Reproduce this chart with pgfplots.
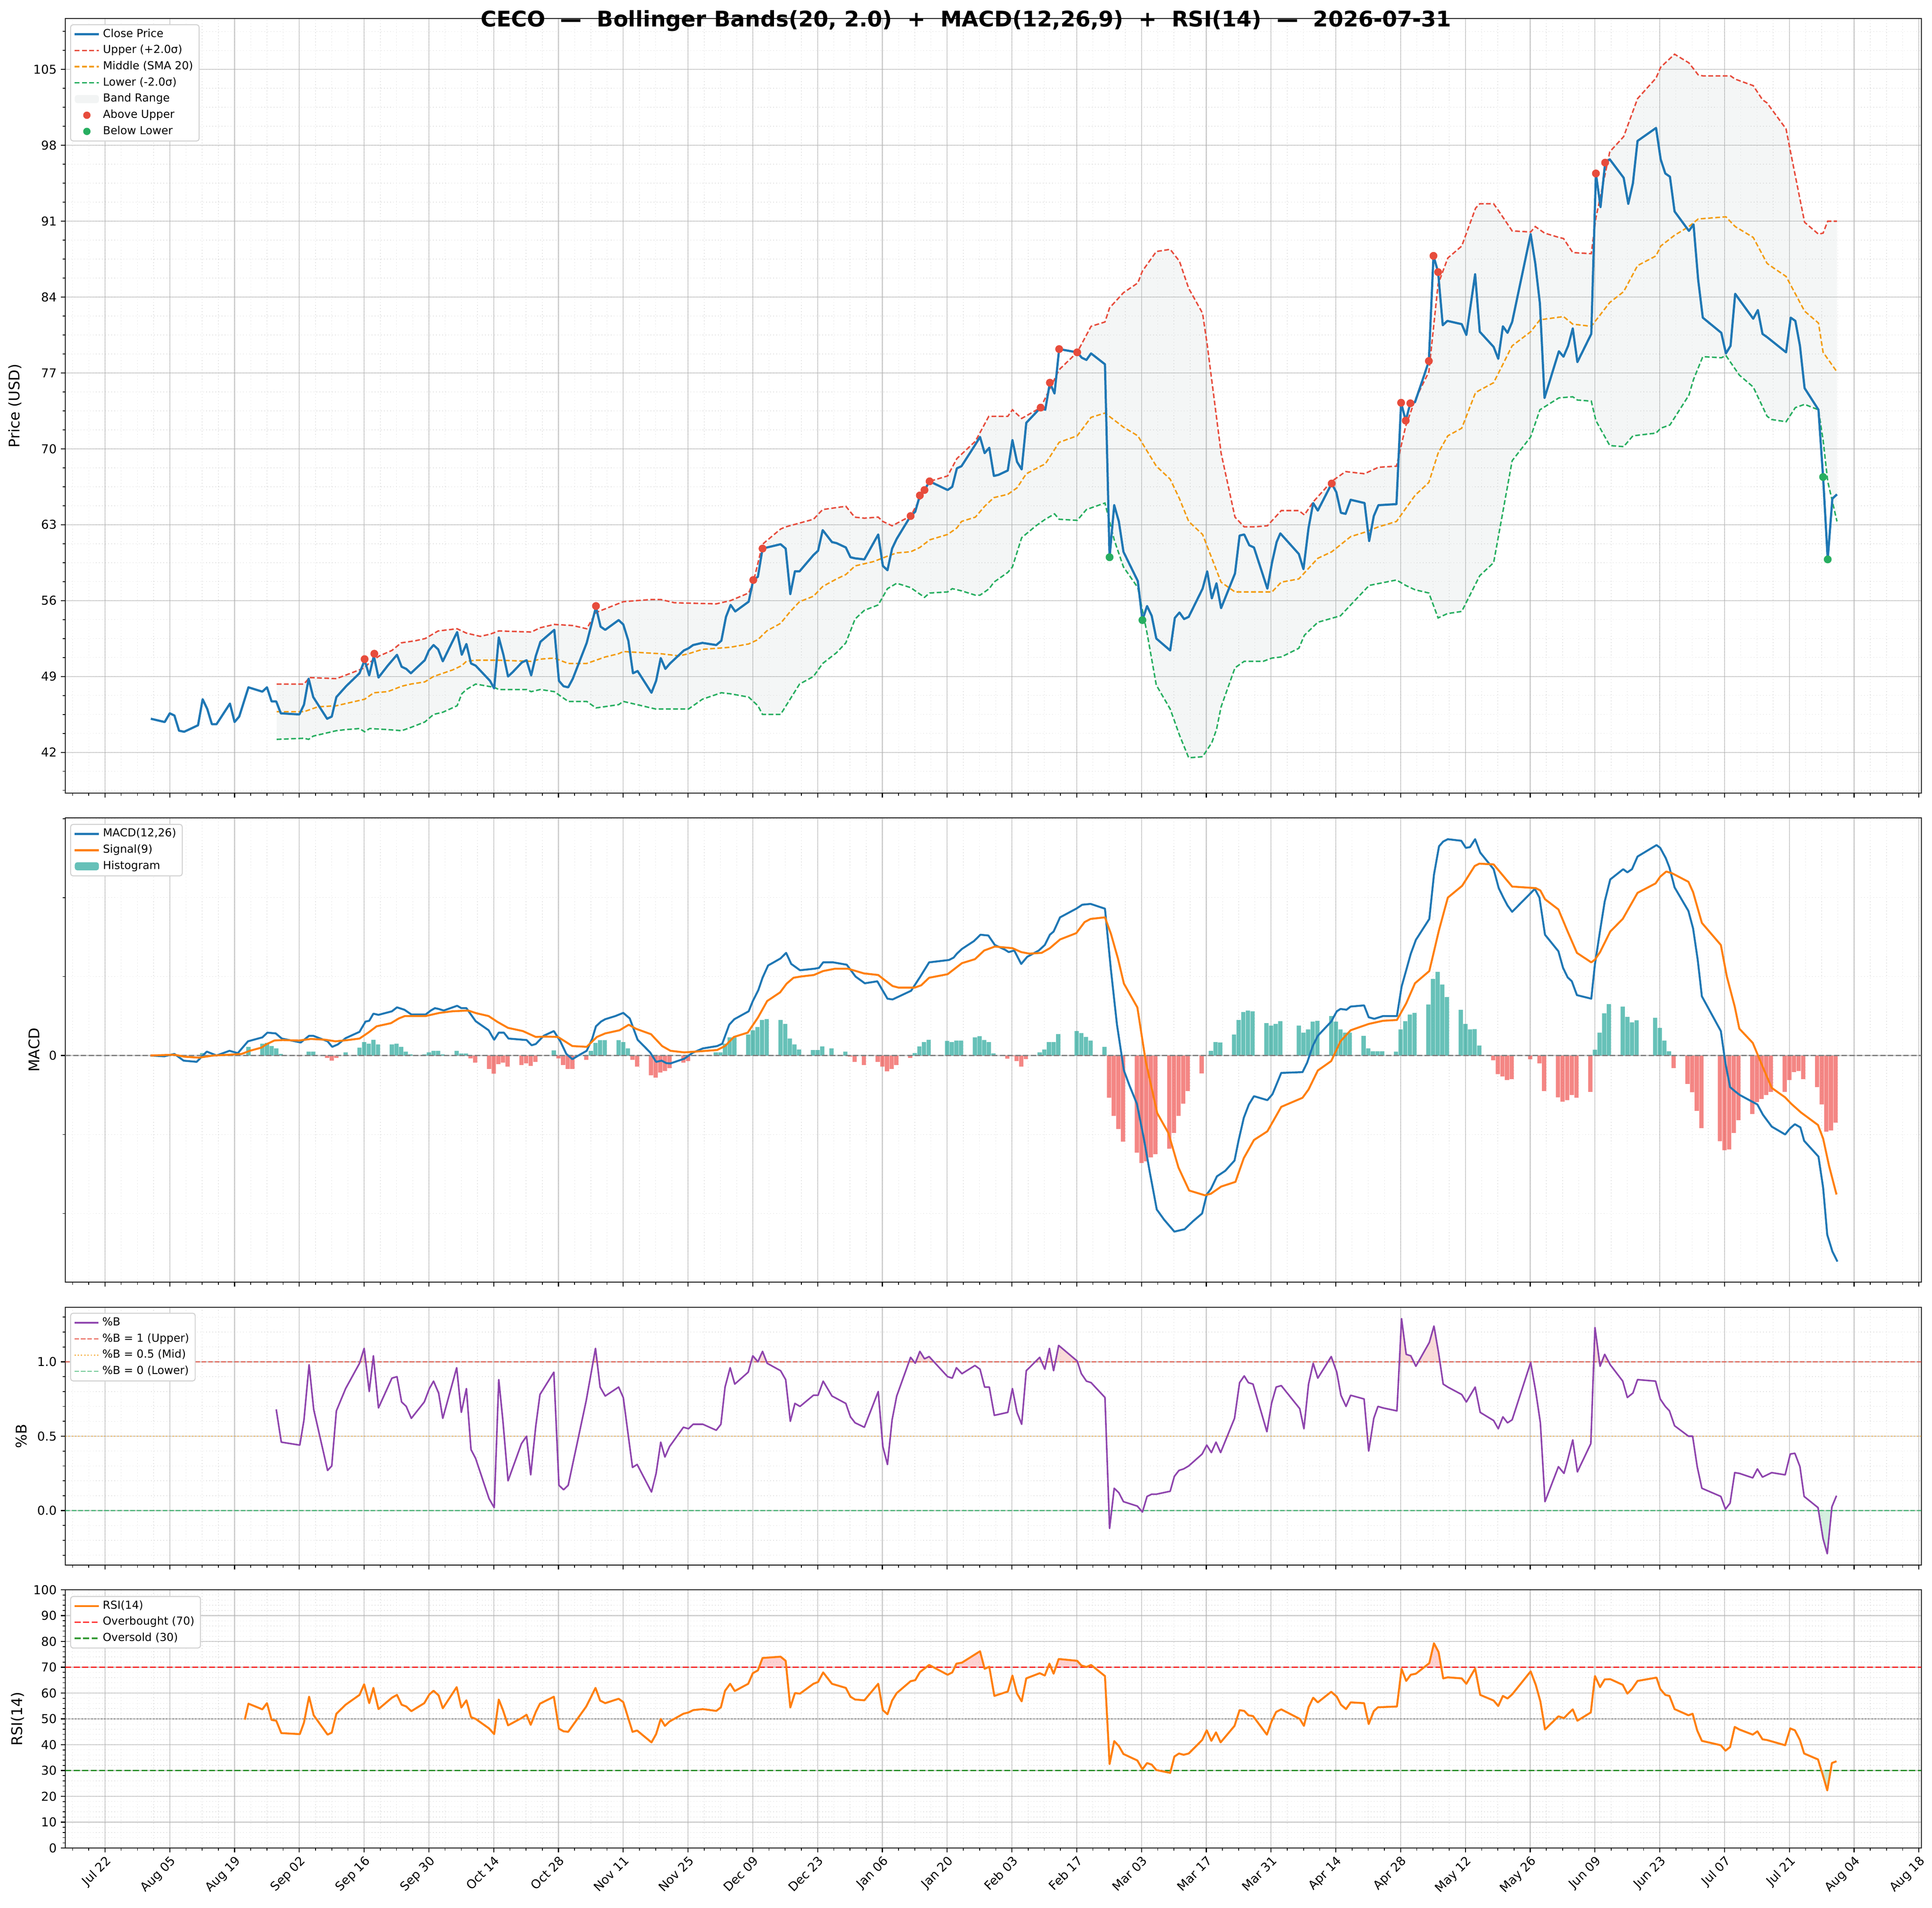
\documentclass[border=0pt]{standalone}
\usepackage{fontspec}
\setmainfont{DejaVu Sans}
\usepackage{pgfplots}
\usepackage{pgfplotstable}
\pgfplotsset{compat=1.18}

\definecolor{cblue}{HTML}{1F77B4}
\definecolor{corange}{HTML}{FF7F0E}
\definecolor{cupper}{HTML}{E74C3C}
\definecolor{cmid}{HTML}{F39C12}
\definecolor{clow}{HTML}{27AE60}
\definecolor{cband}{HTML}{95A5A6}
\definecolor{cteal}{HTML}{26A69A}
\definecolor{cred}{HTML}{EF5350}
\definecolor{cpurple}{HTML}{8E44AD}
\definecolor{cgrid}{HTML}{B0B0B0}
\definecolor{mplgreen}{HTML}{008000}

\pgfplotstableread{
x y
9.9 45.1
12.9 44.8
14.0 45.6
15.0 45.4
16.0 44.0
17.1 43.9
20.1 44.5
21.1 46.9
22.1 46.0
23.1 44.6
24.1 44.6
27.0 46.5
28.0 44.8
29.0 45.3
31.0 48.0
34.0 47.6
35.0 48.0
36.0 46.7
37.0 46.7
38.0 45.6
42.0 45.5
43.0 46.4
44.0 48.8
45.0 47.1
48.0 45.1
49.0 45.3
50.0 47.1
52.1 48.1
55.0 49.3
56.1 50.5
57.1 49.1
58.1 50.9
59.1 48.9
61.1 50.0
63.1 51.0
64.1 49.9
65.1 49.7
66.1 49.3
68.1 50.1
69.1 50.5
70.0 51.4
71.0 51.9
72.0 51.5
73.0 50.4
76.1 53.1
77.1 51.0
78.1 52.0
79.1 50.2
80.1 50.0
83.2 48.6
84.1 47.9
85.1 52.6
86.1 51.0
87.1 49.0
88.1 49.4
90.1 50.3
91.1 50.5
92.1 49.1
93.1 50.9
94.1 52.2
97.1 53.3
98.1 48.6
99.1 48.1
100.1 48.0
101.1 48.8
104.1 52.1
106.1 55.4
107.1 53.6
108.1 53.3
111.0 54.2
112.0 53.8
113.1 52.3
114.1 49.3
115.1 49.5
118.1 47.5
119.1 48.6
120.1 50.7
121.1 49.7
122.1 50.2
123.1 50.6
125.1 51.4
126.1 51.6
127.1 51.9
129.1 52.1
132.1 51.9
133.2 52.3
134.2 54.5
135.2 55.6
136.2 55.0
139.1 55.9
140.1 57.9
141.1 58.2
142.1 60.8
146.0 61.2
147.1 60.8
148.1 56.6
149.1 58.7
150.1 58.7
153.1 60.2
154.1 60.6
155.1 62.5
157.1 61.4
158.1 61.3
160.1 60.9
161.1 60.0
162.1 59.9
164.1 59.8
167.1 62.1
168.1 59.2
169.1 58.8
170.1 60.8
171.1 61.7
174.1 63.8
175.1 64.2
176.1 65.7
177.1 66.2
178.2 67.0
182.1 66.2
183.1 66.5
184.1 68.2
185.1 68.4
188.1 70.4
189.1 71.1
190.1 69.6
191.1 70.1
192.1 67.5
193.1 67.6
195.1 68.0
196.1 70.8
197.1 68.8
198.1 68.1
199.1 72.4
202.2 73.8
203.2 73.6
204.2 76.1
205.2 75.1
206.2 79.2
210.1 78.9
211.1 78.4
212.1 78.2
213.1 78.8
216.1 77.8
217.1 60.0
218.1 64.8
219.1 63.3
220.1 60.5
223.2 57.8
224.2 54.2
225.2 55.5
226.2 54.6
227.2 52.5
230.2 51.4
231.2 54.4
232.2 54.9
233.2 54.3
234.2 54.5
237.2 57.1
238.2 58.7
239.2 56.2
240.2 57.6
241.2 55.3
244.2 58.5
245.2 62.0
246.2 62.1
247.3 61.1
248.3 60.9
251.2 57.1
252.2 59.5
253.2 61.4
254.0 62.2
258.0 60.3
259.0 58.9
260.1 62.7
261.1 65.0
262.1 64.3
265.1 66.8
266.1 66.0
267.1 64.1
268.1 64.0
269.2 65.3
272.2 65.0
273.2 61.5
274.2 63.8
275.2 64.8
279.1 64.9
280.1 74.25
281.1 72.6
282.1 74.2
283.1 74.3
285.1 76.8
286.1 78.1
287.1 87.8
288.1 86.3
289.1 81.4
290.1 81.8
293.2 81.5
294.2 80.5
296.1 86.1
297.1 80.8
300.1 79.4
301.1 78.3
302.1 81.3
303.1 80.7
304.1 81.7
308.1 89.8
309.1 87.1
310.1 83.4
311.1 74.7
314.2 79.0
315.2 78.5
316.2 79.5
317.2 81.1
318.2 78.0
321.2 80.6
322.2 95.4
323.2 92.3
324.2 96.4
325.2 96.7
328.2 95.0
329.2 92.6
330.2 94.5
331.2 98.4
335.2 99.6
336.2 96.7
337.2 95.4
338.2 95.1
339.2 91.9
342.3 90.1
343.3 90.7
344.3 85.6
345.3 82.1
349.3 80.7
350.3 78.8
351.3 79.5
352.3 84.3
353.3 83.7
356.2 82.0
357.2 82.8
358.2 80.6
359.2 80.3
363.3 78.9
364.3 82.1
365.3 81.8
366.3 79.5
367.3 75.6
370.3 73.6
371.3 67.4
372.3 59.8
373.3 65.4
374.3 65.8
}\closetab

\pgfplotstableread{
x y
37.1 48.3
43.0 48.3
44.2 48.9
50.0 48.8
53.1 49.3
56.1 49.8
57.2 50.3
59.3 50.9
62.0 51.4
64.0 52.1
67.1 52.3
69.2 52.5
72.0 53.2
76.1 53.4
78.1 53.0
81.1 52.7
83.2 52.9
85.1 53.2
92.1 53.1
94.1 53.5
97.1 53.8
101.1 53.7
104.1 53.4
106.1 54.9
112.0 55.9
118.0 56.1
120.1 56.1
123.1 55.8
132.1 55.7
135.2 56.0
139.1 56.7
140.1 57.7
142.1 61.2
146.0 62.6
147.1 62.8
153.1 63.5
155.1 64.4
160.1 64.7
162.0 63.7
164.1 63.6
167.1 63.7
168.1 63.3
170.1 62.9
174.1 63.8
178.2 67.0
182.1 67.5
184.1 69.1
188.1 70.7
191.0 73.0
195.1 73.0
196.1 73.6
198.1 72.8
202.2 73.8
206.2 77.3
210.1 78.9
213.1 81.3
216.1 81.7
217.1 83.0
220.1 84.4
223.2 85.3
224.2 86.4
227.2 88.2
230.2 88.4
232.2 87.3
234.2 84.8
237.2 82.5
238.2 79.6
241.2 69.6
244.2 63.7
246.2 62.8
248.3 62.8
251.2 62.9
254.2 64.3
258.0 64.3
259.2 63.9
261.1 65.1
265.1 67.0
268.1 67.9
272.2 67.7
275.2 68.3
279.1 68.4
281.1 72.1
283.1 74.5
286.1 77.1
288.1 85.2
290.2 87.6
293.2 88.7
296.2 92.2
297.1 92.6
300.1 92.6
301.1 92.0
304.1 90.1
308.1 90.0
309.1 90.5
311.1 89.9
314.2 89.5
315.2 89.4
317.2 88.1
321.2 88.0
322.2 91.3
325.2 97.4
328.2 98.8
331.2 102.3
335.2 104.2
336.2 105.2
339.2 106.4
342.3 105.6
344.3 104.5
345.3 104.4
351.3 104.4
352.3 104.1
356.2 103.5
358.2 102.2
359.2 101.9
363.3 99.5
364.3 97.3
367.3 90.9
370.3 89.8
371.3 89.9
372.3 91.0
374.3 91.0
}\uppertab

\pgfplotstableread{
x y
37.1 45.75
43.0 45.75
46.0 46.2
50.0 46.3
52.0 46.5
56.1 46.9
58.1 47.5
61.1 47.6
64.1 48.1
66.1 48.3
69.1 48.5
71.0 49.0
75.1 49.6
77.1 50.0
78.1 50.4
80.1 50.5
85.1 50.5
92.1 50.4
94.1 50.6
97.1 50.7
100.1 50.2
104.1 50.2
108.1 50.8
111.0 51.1
112.0 51.3
116.0 51.2
120.1 51.1
124.1 50.9
126.1 51.1
129.1 51.5
135.2 51.7
139.1 52.0
141.1 52.4
143.0 53.2
146.0 53.9
148.1 55.0
150.1 55.9
153.1 56.4
155.1 57.3
158.1 58.0
160.1 58.4
162.1 59.2
166.1 59.6
169.1 60.1
171.1 60.4
174.1 60.5
176.1 60.9
178.2 61.6
182.1 62.1
184.1 62.7
185.1 63.3
188.1 63.7
190.1 64.7
192.1 65.5
195.1 65.8
197.1 66.4
199.1 67.7
202.2 68.4
203.2 68.6
206.2 70.6
210.1 71.2
213.1 72.9
216.1 73.3
220.1 72.0
223.2 71.2
227.2 68.4
230.2 67.2
232.2 65.4
234.2 63.3
237.2 62.1
241.2 57.7
244.2 56.8
247.3 56.8
252.2 56.8
254.2 57.7
258.0 58.0
262.1 59.9
265.1 60.5
269.2 61.9
272.2 62.3
275.2 62.8
279.1 63.3
283.1 65.7
286.1 66.9
288.1 69.6
290.2 71.2
293.2 71.9
296.2 75.2
300.1 76.1
304.1 79.5
308.1 80.8
310.1 81.9
315.2 82.2
317.2 81.5
321.2 81.3
325.2 83.5
328.2 84.5
331.2 86.9
335.2 87.8
336.2 88.7
339.2 89.7
342.3 90.5
344.3 91.2
350.3 91.4
352.3 90.5
356.2 89.5
359.2 87.1
360.2 86.8
363.3 85.9
367.3 82.7
370.3 81.6
371.3 78.9
374.3 77.1
}\middletab

\pgfplotstableread{
x y
37.1 43.2
43.0 43.3
44.0 43.2
45.0 43.5
48.0 43.8
50.0 44.0
52.0 44.1
55.0 44.2
56.1 43.9
57.2 44.2
61.1 44.1
64.1 44.0
66.1 44.3
69.1 44.8
71.0 45.5
73.0 45.7
76.1 46.3
77.1 47.4
78.1 47.8
80.1 48.3
84.1 48.0
85.1 47.8
91.1 47.8
92.1 47.6
94.1 47.8
97.1 47.6
100.1 46.7
104.1 46.7
106.1 46.1
111.0 46.4
112.0 46.7
116.0 46.3
119.0 46.0
123.1 46.0
126.1 46.0
129.1 46.9
133.2 47.5
135.2 47.4
139.1 47.1
141.1 46.3
142.1 45.5
146.0 45.5
150.1 48.3
153.1 49.0
155.1 50.2
158.1 51.2
160.1 52.1
162.1 54.3
164.1 55.1
167.1 55.6
169.1 57.1
171.1 57.6
174.1 57.2
177.1 56.3
178.2 56.7
182.1 56.8
183.1 57.1
185.1 56.9
188.1 56.5
189.1 56.5
191.1 57.1
192.1 57.7
195.1 58.6
196.1 59.1
198.1 61.8
201.2 62.9
203.2 63.5
205.2 64.0
206.2 63.5
210.1 63.4
212.1 64.4
216.1 65.0
218.1 61.6
220.1 59.1
223.2 57.2
225.2 53.0
227.2 48.2
230.2 46.0
232.2 43.6
234.2 41.5
237.2 41.6
239.2 42.9
240.2 44.1
241.2 46.2
244.2 49.8
246.2 50.4
250.3 50.4
252.2 50.7
254.2 50.8
258.0 51.6
259.2 52.8
262.1 54.0
267.0 54.6
269.2 55.6
273.2 57.4
279.1 57.9
281.1 57.4
283.1 57.0
286.1 56.7
288.1 54.4
290.1 54.8
293.2 55.0
297.1 58.3
300.1 59.5
304.1 68.9
308.1 71.1
310.1 73.6
314.2 74.7
317.2 74.8
318.2 74.5
321.2 74.4
322.2 72.6
325.2 70.3
328.2 70.2
330.2 71.2
335.2 71.45
336.2 71.9
338.2 72.2
342.3 74.95
343.3 76.4
345.3 78.5
349.3 78.4
350.3 78.6
353.2 76.8
356.2 75.7
359.2 73.0
360.2 72.7
363.3 72.5
365.3 73.8
367.3 74.1
370.3 73.6
371.3 70.8
372.3 67.0
374.3 63.3
}\lowertab

% band polygon: upper band forward, lower band backward
\pgfplotstableread{
x y
37.1 48.3
43.0 48.3
44.2 48.9
50.0 48.8
53.1 49.3
56.1 49.8
57.2 50.3
59.3 50.9
62.0 51.4
64.0 52.1
67.1 52.3
69.2 52.5
72.0 53.2
76.1 53.4
78.1 53.0
81.1 52.7
83.2 52.9
85.1 53.2
92.1 53.1
94.1 53.5
97.1 53.8
101.1 53.7
104.1 53.4
106.1 54.9
112.0 55.9
118.0 56.1
120.1 56.1
123.1 55.8
132.1 55.7
135.2 56.0
139.1 56.7
140.1 57.7
142.1 61.2
146.0 62.6
147.1 62.8
153.1 63.5
155.1 64.4
160.1 64.7
162.0 63.7
164.1 63.6
167.1 63.7
168.1 63.3
170.1 62.9
174.1 63.8
178.2 67.0
182.1 67.5
184.1 69.1
188.1 70.7
191.0 73.0
195.1 73.0
196.1 73.6
198.1 72.8
202.2 73.8
206.2 77.3
210.1 78.9
213.1 81.3
216.1 81.7
217.1 83.0
220.1 84.4
223.2 85.3
224.2 86.4
227.2 88.2
230.2 88.4
232.2 87.3
234.2 84.8
237.2 82.5
238.2 79.6
241.2 69.6
244.2 63.7
246.2 62.8
248.3 62.8
251.2 62.9
254.2 64.3
258.0 64.3
259.2 63.9
261.1 65.1
265.1 67.0
268.1 67.9
272.2 67.7
275.2 68.3
279.1 68.4
281.1 72.1
283.1 74.5
286.1 77.1
288.1 85.2
290.2 87.6
293.2 88.7
296.2 92.2
297.1 92.6
300.1 92.6
301.1 92.0
304.1 90.1
308.1 90.0
309.1 90.5
311.1 89.9
314.2 89.5
315.2 89.4
317.2 88.1
321.2 88.0
322.2 91.3
325.2 97.4
328.2 98.8
331.2 102.3
335.2 104.2
336.2 105.2
339.2 106.4
342.3 105.6
344.3 104.5
345.3 104.4
351.3 104.4
352.3 104.1
356.2 103.5
358.2 102.2
359.2 101.9
363.3 99.5
364.3 97.3
367.3 90.9
370.3 89.8
371.3 89.9
372.3 91.0
374.3 91.0
374.3 63.3
372.3 67.0
371.3 70.8
370.3 73.6
367.3 74.1
365.3 73.8
363.3 72.5
360.2 72.7
359.2 73.0
356.2 75.7
353.2 76.8
350.3 78.6
349.3 78.4
345.3 78.5
343.3 76.4
342.3 74.95
338.2 72.2
336.2 71.9
335.2 71.45
330.2 71.2
328.2 70.2
325.2 70.3
322.2 72.6
321.2 74.4
318.2 74.5
317.2 74.8
314.2 74.7
310.1 73.6
308.1 71.1
304.1 68.9
300.1 59.5
297.1 58.3
293.2 55.0
290.1 54.8
288.1 54.4
286.1 56.7
283.1 57.0
281.1 57.4
279.1 57.9
273.2 57.4
269.2 55.6
267.0 54.6
262.1 54.0
259.2 52.8
258.0 51.6
254.2 50.8
252.2 50.7
250.3 50.4
246.2 50.4
244.2 49.8
241.2 46.2
240.2 44.1
239.2 42.9
237.2 41.6
234.2 41.5
232.2 43.6
230.2 46.0
227.2 48.2
225.2 53.0
223.2 57.2
220.1 59.1
218.1 61.6
216.1 65.0
212.1 64.4
210.1 63.4
206.2 63.5
205.2 64.0
203.2 63.5
201.2 62.9
198.1 61.8
196.1 59.1
195.1 58.6
192.1 57.7
191.1 57.1
189.1 56.5
188.1 56.5
185.1 56.9
183.1 57.1
182.1 56.8
178.2 56.7
177.1 56.3
174.1 57.2
171.1 57.6
169.1 57.1
167.1 55.6
164.1 55.1
162.1 54.3
160.1 52.1
158.1 51.2
155.1 50.2
153.1 49.0
150.1 48.3
146.0 45.5
142.1 45.5
141.1 46.3
139.1 47.1
135.2 47.4
133.2 47.5
129.1 46.9
126.1 46.0
123.1 46.0
119.0 46.0
116.0 46.3
112.0 46.7
111.0 46.4
106.1 46.1
104.1 46.7
100.1 46.7
97.1 47.6
94.1 47.8
92.1 47.6
91.1 47.8
85.1 47.8
84.1 48.0
80.1 48.3
78.1 47.8
77.1 47.4
76.1 46.3
73.0 45.7
71.0 45.5
69.1 44.8
66.1 44.3
64.1 44.0
61.1 44.1
57.2 44.2
56.1 43.9
55.0 44.2
52.0 44.1
50.0 44.0
48.0 43.8
45.0 43.5
44.0 43.2
43.0 43.3
37.1 43.2
}\bandtab

\pgfplotstableread{
x y
9.8 0.00
12.8 -0.01
15.0 0.02
17.0 -0.065
19.8 -0.08
22.0 0.05
24.1 0.00
26.9 0.06
28.7 0.03
30.9 0.18
34.0 0.23
35.1 0.29
36.9 0.28
38.2 0.215
42.3 0.165
44.1 0.25
45.0 0.25
48.1 0.18
49.1 0.11
50.3 0.14
52.0 0.22
55.0 0.30
56.3 0.43
57.1 0.44
58.0 0.53
59.1 0.515
62.0 0.56
63.1 0.61
64.7 0.58
66.2 0.52
69.3 0.52
70.4 0.57
71.3 0.60
72.1 0.59
73.2 0.57
76.1 0.63
77.0 0.60
78.1 0.60
80.1 0.435
82.9 0.32
84.1 0.20
85.1 0.29
86.2 0.29
87.2 0.215
91.1 0.196
92.2 0.13
93.1 0.146
94.8 0.25
97.0 0.31
98.4 0.18
99.7 0.02
101.0 -0.046
102.6 0.01
104.1 0.06
105.3 0.215
106.1 0.37
107.2 0.43
108.1 0.46
110.3 0.50
112.0 0.54
113.4 0.47
115.1 0.20
117.8 0.04
119.1 -0.08
120.3 -0.065
121.3 -0.096
122.2 -0.10
125.2 -0.04
127.0 0.035
129.2 0.09
132.3 0.12
133.4 0.15
134.9 0.39
136.0 0.46
139.1 0.56
140.0 0.69
141.2 0.83
142.1 0.985
143.3 1.14
146.0 1.23
147.2 1.30
148.3 1.16
150.2 1.08
153.4 1.10
154.3 1.11
155.2 1.18
157.4 1.18
160.3 1.15
162.2 1.00
164.2 0.915
166.9 0.94
169.1 0.72
170.2 0.71
174.2 0.82
176.2 1.00
178.1 1.18
182.4 1.21
183.4 1.24
184.1 1.29
185.2 1.35
187.8 1.45
189.2 1.53
190.9 1.52
192.3 1.40
194.5 1.34
195.3 1.31
196.5 1.33
198.0 1.16
199.3 1.25
201.8 1.33
203.1 1.40
204.2 1.53
205.0 1.57
206.4 1.75
209.9 1.86
211.2 1.91
213.0 1.92
216.1 1.86
217.4 1.08
218.7 0.39
220.2 -0.19
221.4 -0.38
223.0 -0.61
224.5 -1.05
225.8 -1.48
227.3 -1.95
228.9 -2.08
231.1 -2.23
233.3 -2.20
235.1 -2.10
237.1 -2.00
238.1 -1.76
239.0 -1.69
240.3 -1.53
242.1 -1.46
244.1 -1.33
245.0 -1.07
246.1 -0.79
247.2 -0.62
248.3 -0.515
251.2 -0.565
252.3 -0.49
254.2 -0.22
258.8 -0.21
259.8 -0.09
261.0 0.12
262.1 0.25
265.0 0.43
266.2 0.56
267.0 0.59
268.3 0.58
269.2 0.62
272.1 0.635
273.1 0.485
274.3 0.465
276.2 0.50
279.2 0.50
280.2 0.87
281.2 1.08
282.2 1.29
283.3 1.465
286.2 1.73
287.2 2.29
288.3 2.65
289.2 2.71
290.2 2.74
293.1 2.72
294.1 2.63
295.0 2.64
296.1 2.74
297.2 2.57
300.1 2.36
301.2 2.12
302.2 2.00
303.1 1.90
304.1 1.82
309.0 2.11
310.0 2.00
311.2 1.53
314.1 1.32
315.1 1.11
316.1 0.99
317.0 0.94
318.1 0.765
321.2 0.72
322.0 1.16
323.1 1.58
324.1 1.95
325.3 2.23
328.1 2.36
329.0 2.32
330.0 2.36
331.2 2.52
335.3 2.665
336.1 2.63
337.3 2.50
338.1 2.38
339.2 2.13
342.2 1.83
343.2 1.61
344.2 1.215
345.1 0.75
349.2 0.31
350.2 -0.10
351.2 -0.40
352.2 -0.45
353.3 -0.50
357.1 -0.62
358.3 -0.75
360.2 -0.90
363.1 -1.00
364.2 -0.92
365.2 -0.87
366.4 -0.91
367.2 -1.08
370.3 -1.28
371.3 -1.67
372.2 -2.27
373.3 -2.48
374.4 -2.61
}\macdtab

\pgfplotstableread{
x y
9.8 0
15.0 0.01
17.2 -0.015
20.3 -0.027
23.4 0
26.9 0.01
29.5 0.02
31.3 0.06
33.8 0.10
34.8 0.14
36.6 0.19
38.4 0.196
41.9 0.19
44.5 0.21
47.6 0.20
49.8 0.18
52.5 0.196
55.0 0.215
56.9 0.29
58.7 0.37
61.8 0.41
63.5 0.47
64.8 0.50
69.3 0.50
72.3 0.54
75.0 0.56
78.5 0.57
80.3 0.535
82.9 0.50
84.7 0.43
87.1 0.35
90.3 0.31
93.1 0.235
95.3 0.24
97.9 0.235
101.0 0.12
104.1 0.11
106.3 0.235
108.1 0.28
111.2 0.32
113.2 0.39
114.7 0.34
118.0 0.27
120.4 0.12
122.2 0.06
125.2 0.04
128.7 0.054
132.3 0.07
134.0 0.12
135.9 0.235
138.9 0.29
141.1 0.48
143.1 0.69
145.9 0.80
147.3 0.91
148.8 0.985
150.3 1.00
153.2 1.02
155.2 1.07
157.8 1.10
160.5 1.10
162.3 1.07
164.0 1.04
167.1 1.02
168.4 0.96
170.2 0.88
171.5 0.86
175.0 0.86
176.4 0.89
178.1 0.985
182.1 1.03
185.2 1.17
188.0 1.22
190.0 1.33
192.3 1.38
196.1 1.36
198.0 1.31
199.8 1.29
202.4 1.30
204.2 1.36
206.4 1.47
209.9 1.55
211.7 1.69
213.0 1.73
216.1 1.75
217.4 1.54
218.9 1.23
220.2 0.91
223.1 0.61
224.9 -0.07
227.4 -0.73
229.8 -0.98
232.0 -1.42
234.3 -1.71
237.7 -1.77
239.0 -1.75
241.2 -1.66
244.3 -1.60
246.1 -1.30
248.3 -1.07
251.2 -0.96
254.2 -0.65
258.8 -0.535
260.1 -0.43
262.1 -0.19
265.0 -0.07
266.2 0.08
267.0 0.18
269.2 0.32
273.1 0.40
276.2 0.44
279.2 0.45
281.2 0.66
283.1 0.915
286.2 1.07
288.3 1.59
290.2 2.00
293.3 2.15
296.0 2.40
297.0 2.43
300.1 2.42
302.1 2.28
304.1 2.14
309.2 2.12
310.2 2.09
311.2 1.98
314.1 1.85
316.1 1.57
318.1 1.30
321.2 1.18
322.0 1.215
323.1 1.31
325.3 1.57
328.0 1.73
331.2 2.06
335.1 2.18
336.1 2.265
337.4 2.33
338.6 2.31
342.2 2.20
343.2 2.07
345.1 1.68
349.2 1.40
350.5 1.00
352.2 0.62
353.2 0.34
356.1 0.16
358.3 -0.15
360.2 -0.41
363.1 -0.53
364.4 -0.61
366.5 -0.72
370.2 -0.88
371.3 -1.05
372.6 -1.40
374.2 -1.76
}\signaltab

\pgfplotstableread{
x y
21 0.03
31 0.11
34 0.15
35 0.16
36 0.12
37 0.09
38 0.02
44 0.05
45 0.05
52 0.04
55 0.10
56 0.17
57 0.15
58 0.20
59 0.14
62 0.14
63 0.15
64 0.11
65 0.05
66 0.015
69 0.015
70 0.04
71 0.06
72 0.06
73 0.015
76 0.06
77 0.025
78 0.025
97 0.065
105 0.06
106 0.16
107 0.195
108 0.195
111 0.195
112 0.17
113 0.09
132 0.04
133 0.04
134 0.15
135 0.23
136 0.23
139 0.265
140 0.32
141 0.36
142 0.45
143 0.46
146 0.45
147 0.40
148 0.215
149 0.14
150 0.077
153 0.07
154 0.07
155 0.115
157 0.09
160 0.05
175 0.03
176 0.115
177 0.17
178 0.20
182 0.185
183 0.17
184 0.19
185 0.19
188 0.23
189 0.245
190 0.196
191 0.17
192 0.027
202 0.04
203 0.077
204 0.17
205 0.17
206 0.27
210 0.31
211 0.285
212 0.235
213 0.19
216 0.11
239 0.06
240 0.17
241 0.165
244 0.265
245 0.45
246 0.55
247 0.57
248 0.56
251 0.41
252 0.38
253 0.40
254 0.435
258 0.38
259 0.29
260 0.33
261 0.43
262 0.44
265 0.50
266 0.43
267 0.33
268 0.29
269 0.29
272 0.25
273 0.09
274 0.054
275 0.054
276 0.054
279 0.05
280 0.33
281 0.435
282 0.52
283 0.54
286 0.646
287 0.97
288 1.06
289 0.90
290 0.74
293 0.58
294 0.40
295 0.33
296 0.335
297 0.127
322 0.073
323 0.29
324 0.535
325 0.65
328 0.62
329 0.49
330 0.42
331 0.446
335 0.477
336 0.35
337 0.19
338 0.054
}\histpos

\pgfplotstableread{
x y
42 -0.01
48 -0.03
49 -0.065
50 -0.03
79 -0.035
80 -0.09
83 -0.17
84 -0.23
85 -0.11
86 -0.09
87 -0.14
90 -0.12
91 -0.10
92 -0.13
93 -0.08
98 -0.035
99 -0.12
100 -0.17
101 -0.17
104 -0.055
114 -0.055
115 -0.14
118 -0.25
119 -0.28
120 -0.215
121 -0.196
122 -0.16
125 -0.09
126 -0.07
161 -0.015
162 -0.08
164 -0.12
167 -0.08
168 -0.14
169 -0.20
170 -0.17
171 -0.12
174 -0.03
195 -0.04
196 -0.01
197 -0.07
198 -0.14
199 -0.045
217 -0.535
218 -0.765
219 -0.93
220 -1.09
223 -1.23
224 -1.36
225 -1.34
226 -1.29
227 -1.25
230 -1.18
231 -0.98
232 -0.765
233 -0.61
234 -0.45
237 -0.227
300 -0.06
301 -0.235
302 -0.265
303 -0.31
304 -0.30
308 -0.046
310 -0.10
311 -0.45
314 -0.53
315 -0.585
316 -0.565
317 -0.50
318 -0.535
321 -0.46
339 -0.158
342 -0.36
343 -0.465
344 -0.70
345 -0.92
349 -1.085
350 -1.20
351 -1.19
352 -0.98
353 -0.82
356 -0.74
357 -0.59
358 -0.55
359 -0.50
360 -0.46
363 -0.46
364 -0.31
365 -0.21
366 -0.196
367 -0.30
370 -0.40
371 -0.62
372 -0.965
373 -0.95
374 -0.85
}\histneg

\pgfplotstableread{
x y
37.0 0.68
38.1 0.46
42.1 0.44
43.0 0.61
44.1 0.98
45.1 0.68
48.1 0.27
49.0 0.30
50.0 0.67
52.0 0.82
55.0 0.99
56.0 1.09
57.1 0.80
58.0 1.04
59.1 0.69
62.0 0.89
63.1 0.90
64.1 0.73
65.1 0.70
66.2 0.62
69.0 0.73
70.1 0.82
71.0 0.87
72.1 0.79
73.0 0.62
76.0 0.96
77.0 0.66
78.1 0.82
79.1 0.41
80.1 0.35
83.0 0.08
84.1 0.02
85.1 0.88
86.0 0.60
87.1 0.20
90.0 0.45
91.1 0.50
92.0 0.24
93.1 0.57
94.0 0.78
97.0 0.93
98.1 0.17
99.1 0.14
100.1 0.17
104.0 0.74
106.0 1.09
107.0 0.83
108.1 0.77
111.0 0.83
112.0 0.76
114.0 0.29
115.0 0.31
118.1 0.125
119.1 0.25
120.1 0.46
121.0 0.36
122.0 0.43
125.0 0.56
126.1 0.55
127.1 0.58
129.2 0.58
132.1 0.54
133.1 0.58
134.0 0.83
135.1 0.96
136.1 0.85
139.0 0.93
140.0 1.04
141.1 1.00
142.1 1.07
143.1 0.99
146.0 0.94
147.1 0.88
148.1 0.60
149.1 0.72
150.2 0.70
153.1 0.775
154.1 0.775
155.2 0.87
157.1 0.77
160.1 0.72
161.1 0.63
162.1 0.59
164.1 0.56
167.1 0.80
168.1 0.43
169.1 0.31
170.1 0.61
171.1 0.77
174.1 1.03
175.1 0.99
176.1 1.07
177.1 1.02
178.1 1.035
182.1 0.90
183.1 0.89
184.0 0.96
185.2 0.92
188.0 0.975
189.1 0.95
190.1 0.83
191.1 0.83
192.2 0.64
195.1 0.66
196.1 0.82
197.1 0.66
198.1 0.58
199.1 0.94
202.0 1.03
203.1 0.95
204.1 1.09
205.0 0.94
206.1 1.11
210.1 1.005
211.0 0.92
212.1 0.87
213.1 0.86
216.1 0.76
217.1 -0.12
218.1 0.15
219.1 0.12
220.1 0.06
223.1 0.03
224.2 -0.01
225.2 0.095
226.2 0.11
227.2 0.11
230.2 0.13
231.1 0.23
232.1 0.27
233.1 0.28
234.2 0.30
237.1 0.38
238.1 0.44
239.1 0.39
240.1 0.46
241.1 0.39
244.1 0.62
245.2 0.86
246.2 0.905
247.1 0.86
248.1 0.85
251.1 0.53
252.1 0.72
253.1 0.83
254.2 0.84
258.2 0.685
259.1 0.55
260.1 0.85
261.1 0.99
262.1 0.89
265.0 1.035
266.2 0.93
267.1 0.775
268.2 0.70
269.2 0.775
272.1 0.75
273.1 0.40
274.2 0.62
275.1 0.70
276.2 0.69
279.2 0.67
280.2 1.29
281.2 1.05
282.2 1.04
283.3 0.97
286.2 1.13
287.2 1.24
288.2 1.06
289.2 0.85
290.2 0.83
293.2 0.78
294.2 0.73
296.1 0.83
297.2 0.66
300.1 0.605
301.1 0.55
302.1 0.63
303.1 0.59
304.1 0.61
308.1 0.995
309.2 0.80
310.2 0.59
311.2 0.06
314.1 0.295
315.3 0.25
316.1 0.34
317.2 0.475
318.2 0.26
321.1 0.45
322.0 1.23
323.1 0.97
324.1 1.05
325.3 0.98
328.0 0.87
329.0 0.76
330.2 0.79
331.2 0.88
335.1 0.87
336.1 0.75
337.2 0.70
338.1 0.67
339.2 0.57
342.2 0.50
343.1 0.50
344.1 0.295
345.1 0.15
349.2 0.095
350.2 0.01
351.2 0.05
352.2 0.255
353.2 0.25
356.1 0.22
357.1 0.28
358.2 0.225
359.2 0.24
360.2 0.255
363.1 0.24
364.2 0.38
365.2 0.385
366.3 0.295
367.2 0.095
370.2 0.02
371.3 -0.19
372.2 -0.29
373.2 0.025
374.2 0.10
}\pbtab

\pgfplotstableread{
x y
30.2 49.7
31.0 55.9
34.0 53.7
35.0 56.1
36.0 49.6
37.0 49.3
38.1 44.5
42.1 44.1
43.0 48.6
44.1 58.6
45.1 51.4
48.1 43.9
49.0 44.7
50.0 52.0
52.0 55.5
55.0 59.3
56.0 63.4
57.1 56.1
58.0 62.0
59.1 53.8
62.0 58.2
63.1 59.3
64.1 55.5
65.1 54.8
66.2 53.0
69.0 56.1
70.1 59.5
71.0 60.9
72.1 59.1
73.0 54.1
76.0 62.3
77.0 54.4
78.1 57.2
79.1 50.7
80.1 50.0
83.0 46.3
84.1 44.1
85.1 57.5
86.0 53.4
87.1 47.5
90.0 50.3
91.1 51.6
92.0 47.7
93.1 52.7
94.0 55.9
97.0 58.6
98.1 46.2
99.1 45.2
100.1 45.0
104.0 54.8
106.0 62.0
107.0 57.1
108.1 56.1
111.0 57.8
112.0 56.5
114.0 45.0
115.0 45.5
118.1 40.9
119.1 44.1
120.1 50.0
121.0 47.3
122.0 49.0
125.0 52.0
126.1 52.5
127.1 53.4
129.2 53.8
132.1 53.1
133.1 54.5
134.0 60.9
135.1 63.6
136.1 60.8
139.0 63.6
140.0 67.7
141.1 68.8
142.1 73.6
146.0 74.1
147.1 72.5
148.1 54.4
149.1 60.0
150.2 59.8
153.1 63.6
154.1 64.3
155.2 68.0
157.1 63.6
160.1 62.0
161.1 58.6
162.1 57.5
164.1 57.2
167.1 63.6
168.1 53.4
169.1 51.8
170.1 57.1
171.1 60.0
174.1 64.6
175.1 65.0
176.1 68.1
177.1 69.5
178.1 70.9
182.1 67.1
183.1 68.0
184.0 71.4
185.2 71.8
189.1 76.2
190.1 69.4
191.1 70.2
192.2 58.9
195.1 60.6
196.1 66.8
197.1 59.8
198.1 56.8
199.1 65.7
202.0 67.7
203.1 66.8
204.1 71.4
205.0 67.5
206.1 73.2
210.1 72.5
211.0 70.7
212.1 70.1
213.1 70.9
216.1 66.6
217.1 32.5
218.1 41.4
219.1 39.5
220.1 36.4
223.1 33.9
224.2 30.5
225.2 32.9
226.2 32.3
227.2 30.2
230.2 29.1
231.1 35.4
232.1 36.6
233.1 36.1
234.2 36.6
237.1 41.8
238.1 45.6
239.1 41.5
240.1 44.8
241.1 40.9
244.1 47.3
245.2 53.4
246.2 53.1
247.1 51.4
248.1 51.1
251.1 43.9
252.1 49.0
253.1 52.7
254.2 53.7
258.2 50.0
259.1 47.3
260.1 54.5
261.1 58.2
262.1 56.4
265.0 60.5
266.2 58.6
267.1 55.5
268.2 53.8
269.2 56.4
272.1 56.1
273.1 48.0
274.2 53.0
275.1 54.5
279.2 54.8
280.2 69.4
281.2 64.7
282.2 67.1
283.3 67.5
286.2 71.6
287.2 79.3
288.2 75.9
289.2 65.7
290.2 66.1
293.2 65.7
294.2 63.6
296.1 69.5
297.2 59.3
300.1 57.1
301.1 55.0
302.1 58.9
303.1 57.9
304.1 59.5
308.1 68.4
309.2 63.2
310.2 56.8
311.2 45.9
314.1 51.0
315.3 50.3
316.1 51.8
317.2 53.7
318.2 49.3
321.1 52.5
322.0 66.6
323.1 62.3
324.1 65.3
325.3 65.4
328.0 63.2
329.0 59.8
330.0 61.6
331.2 64.7
335.3 66.0
336.1 61.6
337.2 59.3
338.1 58.9
339.2 53.8
342.2 51.4
343.1 52.0
344.1 45.5
345.1 41.5
349.2 39.8
350.2 37.7
351.2 39.1
352.2 46.9
353.2 45.9
356.1 43.9
357.1 45.2
358.2 42.1
359.2 41.8
363.1 39.8
364.2 46.3
365.2 45.6
366.3 41.8
367.2 36.6
370.2 34.3
371.3 27.9
372.2 22.3
373.2 32.9
374.2 33.6
}\rsitab

\pgfplotsset{
  base/.style={
    scale only axis, width=1514.2pt,
    xmin=-8.58, xmax=392.56,
    xtick={0,14,...,392}, minor xtick={-7,-3.5,...,392},
    axis line style={black, line width=0.9pt},
    tick align=outside, major tick length=3.5pt, minor tick length=2pt,
    every tick/.style={black, line width=0.8pt},
    minor tick style={line width=0.6pt},
    xtick pos=left, ytick pos=left,
    grid=both,
    major grid style={cgrid, opacity=0.6, line width=0.8pt},
    minor grid style={cgrid, opacity=0.4, line width=0.5pt, dotted},
    tick label style={font=\fontsize{10}{12}\selectfont},
    label style={font=\fontsize{12}{14}\selectfont},
    /pgf/number format/assume math mode=true,
    legend cell align=left,
    legend style={anchor=north west, font=\fontsize{9}{10.8}\selectfont,
      draw=black!18, line width=0.8pt, rounded corners=2pt, fill=white,
      inner xsep=2.5pt, inner ysep=3.3pt, row sep=4.2pt,
      nodes={text height=6.8pt, text depth=2.2pt, inner ysep=0pt, inner xsep=2.4pt}},
    legend image code/.code={\draw[##1] (0pt,0pt) -- (19.7pt,0pt);},
  },
  overlay/.style={
    scale only axis, width=1514.2pt, xmin=-8.58, xmax=392.56, hide axis,
  },
  dotleg/.style={legend image code/.code={\fill[##1, draw=none] (9.85pt,0pt) circle (3pt);}},
  arealeg/.style={legend image code/.code={\fill[##1, draw=none] (0pt,-3.3pt) rectangle (19.7pt,3.3pt);}},
  bdash/.style={dash pattern=on 3.9pt off 2.0pt},
}

\begin{document}
\begin{tikzpicture}
\useasboundingbox (0pt,0pt) rectangle (1576.08pt,-1555.92pt);

% ---------------- Price panel
\begin{axis}[base, at={(53.28pt,-15.12pt)}, anchor=north west, height=631.8pt,
  ymin=38.24, ymax=109.69, ytick={42,49,...,105}, minor ytick={38.5,40.25,...,108.5},
  xticklabels={},
  ylabel={Price (USD)}, ylabel style={at={(axis description cs:-0.0271,0.5)}, anchor=center},
  legend style={at={(axis description cs:0.0026,0.9926)}}]
  \addplot[fill=cband, fill opacity=0.1, draw=none, forget plot] table {\bandtab} -- cycle;
  \addplot[cupper, line width=1.2pt, bdash, forget plot] table {\uppertab};
  \addplot[cmid, line width=1.2pt, bdash, forget plot] table {\middletab};
  \addplot[clow, line width=1.2pt, bdash, forget plot] table {\lowertab};
  \addplot[cblue, line width=1.8pt, line join=round, forget plot] table {\closetab};
  \addplot[only marks, mark=*, mark size=3pt, mark options={draw=cupper, fill=cupper}, forget plot] coordinates {
    (56.1,50.6) (58.2,51.1) (106.1,55.5) (140.1,57.9) (142.1,60.8) (174.1,63.8) (176.1,65.7)
    (177.1,66.2) (178.2,67.0) (202.2,73.8) (204.2,76.1) (206.2,79.2) (210.1,78.9) (265.1,66.8)
    (280.1,74.25) (281.1,72.6) (282.1,74.2) (286.1,78.1) (287.1,87.8) (288.1,86.3) (322.2,95.4) (324.2,96.4)};
  \addplot[only marks, mark=*, mark size=3pt, mark options={draw=clow, fill=clow}, forget plot] coordinates {
    (217.1,60.0) (224.2,54.2) (371.3,67.4) (372.3,59.8)};
  \addlegendimage{cblue, line width=1.8pt}
  \addlegendentry{Close Price}
  \addlegendimage{cupper, line width=1.2pt, bdash}
  \addlegendentry{Upper (+2.0σ)}
  \addlegendimage{cmid, line width=1.2pt, bdash}
  \addlegendentry{Middle (SMA 20)}
  \addlegendimage{clow, line width=1.2pt, bdash}
  \addlegendentry{Lower (-2.0σ)}
  \addlegendimage{arealeg, fill=cband, fill opacity=0.12}
  \addlegendentry{Band Range}
  \addlegendimage{dotleg, fill=cupper}
  \addlegendentry{Above Upper}
  \addlegendimage{dotleg, fill=clow}
  \addlegendentry{Below Lower}
\end{axis}

% ---------------- MACD panel
\begin{axis}[base, at={(53.28pt,-667.08pt)}, anchor=north west, height=378.7pt,
  ymin=-2.87, ymax=3.01, ytick={0}, yticklabels={0}, minor ytick={-2,-1,1,2,3},
  xticklabels={},
  ylabel={MACD}, ylabel style={at={(axis description cs:-0.0169,0.5)}, anchor=center},
  legend style={at={(axis description cs:0.0026,0.987)}}]
  \addplot[ybar, bar width=0.92, bar shift=0pt, fill=cteal, fill opacity=0.7, draw=none, forget plot] table {\histpos};
  \addplot[ybar, bar width=0.92, bar shift=0pt, fill=cred, fill opacity=0.7, draw=none, forget plot] table {\histneg};
  \addplot[gray, line width=1.2pt, dash pattern=on 4.4pt off 1.9pt, forget plot] coordinates {(-8.58,0) (392.56,0)};
  \addplot[cblue, line width=1.6pt, line join=round, forget plot] table {\macdtab};
  \addplot[corange, line width=1.6pt, line join=round, forget plot] table {\signaltab};
  \addlegendimage{cblue, line width=1.8pt}
  \addlegendentry{MACD(12,26)}
  \addlegendimage{corange, line width=1.8pt}
  \addlegendentry{Signal(9)}
  \addlegendimage{arealeg, fill=cteal, fill opacity=0.7}
  \addlegendentry{Histogram}
\end{axis}

% ---------------- %B fills (overlay axes clip the shaded excursions)
\begin{axis}[overlay, at={(53.28pt,-1066.32pt)}, anchor=north west, height=44.42pt, ymin=1, ymax=1.366]
  \addplot[fill=cupper, fill opacity=0.2, draw=none] table {\pbtab} -- (axis cs:374.2,0) -- (axis cs:37.0,0) -- cycle;
\end{axis}
\begin{axis}[overlay, at={(53.28pt,-1276.52pt)}, anchor=south west, height=44.42pt, ymin=-0.366, ymax=0]
  \addplot[fill=clow, fill opacity=0.2, draw=none] table {\pbtab} -- (axis cs:374.2,1) -- (axis cs:37.0,1) -- cycle;
\end{axis}

% ---------------- %B panel
\begin{axis}[base, at={(53.28pt,-1066.32pt)}, anchor=north west, height=210.2pt,
  ymin=-0.366, ymax=1.366, ytick={0,0.5,1}, yticklabels={0.0,0.5,1.0},
  minor ytick={-0.3,-0.2,-0.1,0.1,0.2,0.3,0.4,0.6,0.7,0.8,0.9,1.1,1.2,1.3},
  xticklabels={},
  ylabel={\%B}, ylabel style={at={(axis description cs:-0.0238,0.5)}, anchor=center},
  legend style={at={(axis description cs:0.0026,0.979)}}]
  \addplot[cupper, opacity=0.7, line width=1pt, dash pattern=on 3.7pt off 1.6pt, forget plot] coordinates {(-8.58,1) (392.56,1)};
  \addplot[cmid, opacity=0.7, line width=1pt, dash pattern=on 1pt off 1.65pt, forget plot] coordinates {(-8.58,0.5) (392.56,0.5)};
  \addplot[clow, opacity=0.7, line width=1pt, dash pattern=on 3.7pt off 1.6pt, forget plot] coordinates {(-8.58,0) (392.56,0)};
  \addplot[cpurple, line width=1.3pt, line join=round, forget plot] table {\pbtab};
  \addlegendimage{cpurple, line width=1.3pt}
  \addlegendentry{\%B}
  \addlegendimage{cupper, opacity=0.7, line width=1pt, dash pattern=on 3.7pt off 1.6pt}
  \addlegendentry{\%B = 1 (Upper)}
  \addlegendimage{cmid, opacity=0.7, line width=1pt, dash pattern=on 1pt off 1.65pt}
  \addlegendentry{\%B = 0.5 (Mid)}
  \addlegendimage{clow, opacity=0.7, line width=1pt, dash pattern=on 3.7pt off 1.6pt}
  \addlegendentry{\%B = 0 (Lower)}
\end{axis}

% ---------------- RSI fills
\begin{axis}[overlay, at={(53.28pt,-1296.72pt)}, anchor=north west, height=63.18pt, ymin=70, ymax=100]
  \addplot[fill=red, fill opacity=0.18, draw=none] table {\rsitab} -- (axis cs:374.2,0) -- (axis cs:30.2,0) -- cycle;
\end{axis}
\begin{axis}[overlay, at={(53.28pt,-1507.32pt)}, anchor=south west, height=63.18pt, ymin=0, ymax=30]
  \addplot[fill=mplgreen, fill opacity=0.18, draw=none] table {\rsitab} -- (axis cs:374.2,100) -- (axis cs:30.2,100) -- cycle;
\end{axis}

% ---------------- RSI panel
\begin{axis}[base, at={(53.28pt,-1296.72pt)}, anchor=north west, height=210.6pt,
  ymin=0, ymax=100, ytick={0,10,...,100}, minor ytick={2,4,...,98},
  xticklabels={Jul 22,Aug 05,Aug 19,Sep 02,Sep 16,Sep 30,Oct 14,Oct 28,Nov 11,Nov 25,Dec 09,Dec 23,Jan 06,Jan 20,Feb 03,Feb 17,Mar 03,Mar 17,Mar 31,Apr 14,Apr 28,May 12,May 26,Jun 09,Jun 23,Jul 07,Jul 21,Aug 04,Aug 18},
  xticklabel style={rotate=45, anchor=north east, font=\fontsize{10}{12}\selectfont, inner sep=1.5pt},
  ylabel={RSI(14)}, ylabel style={at={(axis description cs:-0.0257,0.5)}, anchor=center},
  legend style={at={(axis description cs:0.0026,0.976)}}]
  \addplot[red, opacity=0.8, line width=1.3pt, dash pattern=on 4.8pt off 2.1pt, forget plot] coordinates {(-8.58,70) (392.56,70)};
  \addplot[mplgreen, opacity=0.8, line width=1.3pt, dash pattern=on 4.8pt off 2.1pt, forget plot] coordinates {(-8.58,30) (392.56,30)};
  \addplot[gray, opacity=0.7, line width=1pt, dash pattern=on 1pt off 1.65pt, forget plot] coordinates {(-8.58,50) (392.56,50)};
  \addplot[corange, line width=1.6pt, line join=round, forget plot] table {\rsitab};
  \addlegendimage{corange, line width=1.6pt}
  \addlegendentry{RSI(14)}
  \addlegendimage{red, opacity=0.8, line width=1.3pt, dash pattern=on 4.8pt off 2.1pt}
  \addlegendentry{Overbought (70)}
  \addlegendimage{mplgreen, opacity=0.8, line width=1.3pt, dash pattern=on 4.8pt off 2.1pt}
  \addlegendentry{Oversold (30)}
\end{axis}

\node[font=\fontsize{17.6}{20}\selectfont\bfseries, anchor=base] at (788pt,-21.6pt)
  {CECO\ \ —\ \ Bollinger Bands(20, 2.0)\ \ +\ \ MACD(12,26,9)\ \ +\ \ RSI(14)\ \ —\ \ 2026-07-31};
\end{tikzpicture}
\end{document}
